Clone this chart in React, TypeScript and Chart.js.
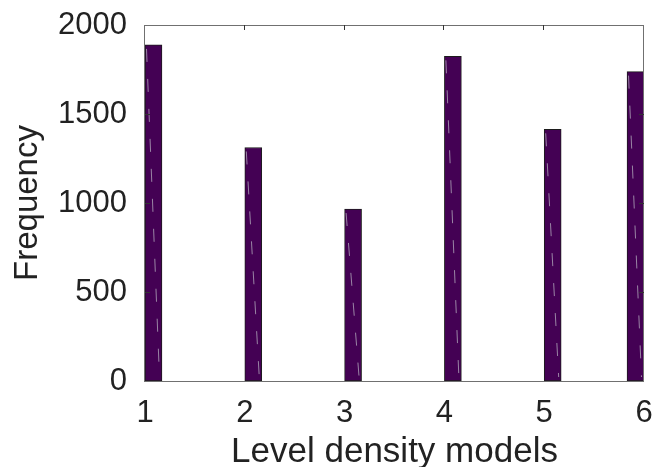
import React, { useEffect, useRef } from "react";
import { Chart, registerables } from "chart.js";

Chart.register(...registerables);

// ---- data ----
const models = [1, 2, 3, 4, 5, 6];
const binStarts = [1, 2, 3, 4, 5, 5.83];
const binWidth = 0.17;
const frequencies = [1888, 1312, 966, 1824, 1414, 1738];
const yTickValues = [0, 500, 1000, 1500, 2000];
const xTickValues = models;
const xTitle = "Level density models";
const yTitle = "Frequency";

const FONT = "'Liberation Sans', Arial, Helvetica, sans-serif";
const TEXT = "#222222";
const FRAME = "#707070";

const histPlugin = {
  id: "histPlugin",
  beforeDatasetsDraw(chart: any) {
    const xs = chart.scales.x;
    const meta = chart.getDatasetMeta(0);
    meta.data.forEach((el: any, i: number) => {
      const p0 = xs.getPixelForValue(binStarts[i]);
      const p1 = xs.getPixelForValue(binStarts[i] + binWidth);
      el.x = (p0 + p1) / 2;
      el.width = p1 - p0;
    });
  },
  afterDatasetsDraw(chart: any) {
    const ctx = chart.ctx;
    const { left, right, top, bottom } = chart.chartArea;
    const xs = chart.scales.x;
    const ys = chart.scales.y;
    const meta = chart.getDatasetMeta(0);
    ctx.save();
    // faint dashed edge artefacts inside bars
    ctx.strokeStyle = "rgba(175,165,185,0.8)";
    ctx.lineWidth = 1;
    ctx.setLineDash([13, 17]);
    meta.data.forEach((el: any) => {
      const l = el.x - el.width / 2;
      const r = el.x + el.width / 2;
      ctx.beginPath();
      ctx.moveTo(l + 1.5, el.y + 4);
      ctx.lineTo(r - 2.5, el.base - 4);
      ctx.stroke();
    });
    ctx.setLineDash([]);
    // frame
    ctx.strokeStyle = FRAME;
    ctx.lineWidth = 1;
    ctx.strokeRect(left - 0.5, top + 0.5, right - left, bottom - top);
    // inner ticks
    ctx.strokeStyle = "#333";
    const tl = 5;
    ctx.beginPath();
    yTickValues.forEach((v) => {
      if (v === 0 || v === 2000) return;
      const py = Math.round(ys.getPixelForValue(v)) + 0.5;
      ctx.moveTo(left, py);
      ctx.lineTo(left + tl, py);
      ctx.moveTo(right, py);
      ctx.lineTo(right - tl, py);
    });
    xTickValues.forEach((v) => {
      if (v === 1 || v === 6) return;
      const px = Math.round(xs.getPixelForValue(v)) - 0.5;
      ctx.moveTo(px, top);
      ctx.lineTo(px, top + tl);
    });
    ctx.stroke();
    ctx.restore();
  },
};

export default function App() {
  const ref = useRef<HTMLCanvasElement | null>(null);
  useEffect(() => {
    if (!ref.current) return;
    const chart = new Chart(ref.current, {
      type: "bar",
      data: {
        datasets: [
          {
            data: binStarts.map((s, i) => ({ x: s + binWidth / 2, y: frequencies[i] })),
            backgroundColor: "#440154",
            borderColor: "#1c1c1c",
            borderWidth: 1,
            borderSkipped: false,
            barThickness: 17,
          },
        ],
      },
      options: {
        responsive: false,
        animation: false,
        layout: { padding: { left: 0, right: 12, top: 25, bottom: 0 } },
        plugins: { legend: { display: false }, tooltip: { enabled: false } },
        scales: {
          x: {
            type: "linear",
            min: 1,
            max: 6,
            offset: false,
            afterFit: (s: any) => {
              s.height = 86;
              s.paddingLeft = 0;
              s.paddingRight = 0;
              s.paddingTop = 0;
              s.paddingBottom = 0;
            },
            afterBuildTicks: (s: any) => {
              s.ticks = xTickValues.map((v) => ({ value: v }));
            },
            grid: { display: false, drawTicks: false, offset: false },
            border: { display: false },
            ticks: {
              padding: 14,
              color: TEXT,
              font: { family: FONT, size: 31 },
              callback: (v: any) => String(v),
              maxRotation: 0,
            },
            title: {
              display: true,
              text: xTitle,
              color: TEXT,
              font: { family: FONT, size: 35, lineHeight: 0.85 },
              padding: { top: 0, bottom: 0 },
            },
          },
          y: {
            type: "linear",
            min: 0,
            max: 2000,
            afterFit: (s: any) => {
              s.width = 145;
              s.paddingLeft = 0;
              s.paddingRight = 0;
              s.paddingTop = 0;
              s.paddingBottom = 0;
            },
            afterBuildTicks: (s: any) => {
              s.ticks = yTickValues.map((v) => ({ value: v }));
            },
            grid: { display: false, drawTicks: false },
            border: { display: false },
            ticks: {
              padding: 18,
              color: TEXT,
              font: { family: FONT, size: 31 },
              callback: (v: any) => String(v),
            },
            title: {
              display: true,
              text: yTitle,
              color: TEXT,
              font: { family: FONT, size: 33, lineHeight: 1.2 },
              padding: { top: 8, bottom: 0 },
            },
          },
        },
      },
      plugins: [histPlugin],
    } as any);
    return () => chart.destroy();
  }, []);
  return (
    <div style={{ position: "absolute", left: 0, top: 0, width: 656, height: 467 }}>
      <canvas ref={ref} width={656} height={467} style={{ display: "block" }} />
    </div>
  );
}
